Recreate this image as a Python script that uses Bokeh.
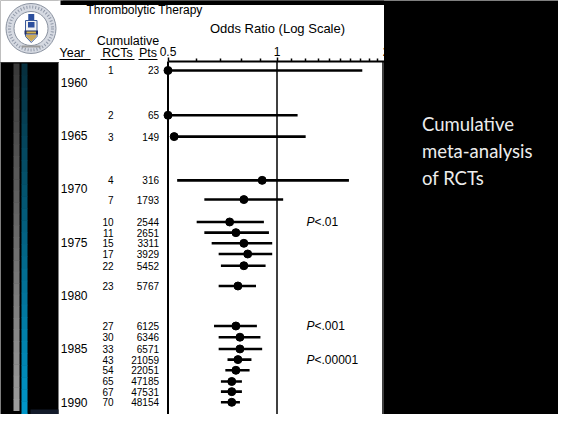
import numpy as np
from bokeh.plotting import figure
from bokeh.models import Range1d, FixedTicker, NumeralTickFormatter
from bokeh.core.properties import value
from bokeh.embed import file_html
from bokeh.resources import INLINE

# ---------------- data ----------------
years = [1960, 1965, 1970, 1975, 1980, 1985, 1990]
year_pos = [1958.9, 1963.1, 1965.1, 1969.2, 1971.0, 1973.1, 1974.1, 1975.1, 1976.1,
            1977.2, 1979.1, 1982.85, 1983.9, 1985.0, 1986.0, 1987.0, 1988.05, 1989.0, 1990.0]
cum_rcts = [1, 2, 3, 4, 7, 10, 11, 15, 17, 22, 23, 27, 30, 33, 43, 54, 65, 67, 70]
cum_pts = [23, 65, 149, 316, 1793, 2544, 2651, 3311, 3929, 5452, 5767, 6125, 6346,
           6571, 21059, 22051, 47185, 47531, 48154]
odds_ratio = [0.50, 0.50, 0.52, 0.91, 0.81, 0.74, 0.77, 0.81, 0.83, 0.81, 0.78, 0.77,
              0.79, 0.79, 0.78, 0.77, 0.75, 0.75, 0.75]
ci_low = [0.50, 0.50, 0.52, 0.53, 0.63, 0.60, 0.63, 0.66, 0.69, 0.70, 0.69, 0.67,
          0.69, 0.69, 0.73, 0.72, 0.70, 0.70, 0.70]
ci_high = [1.72, 1.14, 1.20, 1.58, 1.04, 0.92, 0.95, 0.97, 0.97, 0.93, 0.875, 0.88,
           0.90, 0.91, 0.85, 0.84, 0.80, 0.80, 0.79]
p_labels = ["<.01", "<.001", "<.00001"]
p_at_rcts = [10, 27, 43]
x_major = [0.5, 1, 2]
x_minor = [0.6, 0.7, 0.8, 0.9, 1.1, 1.2, 1.3, 1.4, 1.5, 1.6, 1.7, 1.8, 1.9]
title_text = "Thrombolytic Therapy"
axis_title = "Odds Ratio (Log Scale)"
side_text = ["Cumulative", "meta-analysis", "of RCTs"]

# ---------------- layout helpers (pixel -> data) ----------------
W, H = 558, 414
X0, PPD = 167.5, 109.0      # px of OR=0.5, px per doubling
Y0, PPY = 81.7, 10.67       # px of 1960, px per year


def xd(px):
    return 0.5 * 2 ** ((px - X0) / PPD)


def yd(py):
    return 1960 + (py - Y0) / PPY


p = figure(width=W, height=H, x_axis_type="log", x_axis_location="above",
           y_axis_location="left",
           x_range=Range1d(xd(0), xd(W)), y_range=Range1d(yd(H), yd(0)),
           output_backend="svg", toolbar_location=None, min_border=0,
           background_fill_color="black", border_fill_color="black",
           outline_line_color=None)
p.grid.visible = False

FONT = "Liberation Sans"


def txt(px, py, s, size, align="left", baseline="middle", color="black",
        font=FONT, style="normal"):
    p.text(x=[xd(px)], y=[yd(py)], text=[s], text_font=value(font),
           text_font_size=value(f"{size}px"), text_align=align,
           text_baseline=baseline, text_color=color, text_font_style=style)


def rect(l, r, t, b, fill, line=None, lw=1):
    p.quad(left=[xd(l)], right=[xd(r)], top=[yd(t)], bottom=[yd(b)],
           fill_color=fill, line_color=line, line_width=lw)


# white slide panel
rect(58, 383.5, 0, H, "white")


# left decorative gradient strips
def gradient(l, r, t, b, c0, c1, n=30):
    c0 = np.array([int(c0[i:i + 2], 16) for i in (1, 3, 5)])
    c1 = np.array([int(c1[i:i + 2], 16) for i in (1, 3, 5)])
    edges = np.linspace(t, b, n + 1)
    for i in range(n):
        f = i / (n - 1)
        c = (c0 + (c1 - c0) * f).astype(int)
        rect(l, r, edges[i], edges[i + 1] + 0.5, "#%02x%02x%02x" % tuple(c))


gradient(13, 19, 63, 410, "#3a3a3a", "#9c9c9c")
gradient(21, 27, 63, 425, "#06303f", "#0099cc")
rect(30, 58, 409, 415, "#121a2a")

# logo
rect(-2, 62.5, -2, 61.5, "white")
p.segment(x0=[xd(0)], y0=[yd(62)], x1=[xd(58)], y1=[yd(62)],
          line_color="#333333", line_width=1)
p.scatter(x=[xd(30.5)], y=[yd(28)], size=50, marker="circle",
          fill_color="#d6dae2", line_color="#8a92a0", line_width=1)
p.scatter(x=[xd(30.5)], y=[yd(28)], size=43, marker="circle",
          fill_color=None, line_color="#9098a8", line_width=3, line_dash="1 2")
p.scatter(x=[xd(30.5)], y=[yd(28)], size=34, marker="circle",
          fill_color="white", line_color="#8a92a0", line_width=1)
p.patch(x=[xd(v) for v in (25, 36.5, 36.5, 30.75, 25)],
        y=[yd(v) for v in (20, 20, 36, 42, 36)],
        fill_color="#f2f2f2", line_color="#3b5a9a", line_width=1)
rect(27.5, 34, 21.5, 27, "#2c4f9e")
rect(24, 37.5, 30, 34, "#1f2f6b")
rect(26, 35.5, 31, 33, "#d4b24a")
p.patch(x=[xd(v) for v in (25.5, 36, 36, 30.75, 25.5)],
        y=[yd(v) for v in (34.5, 34.5, 36, 41, 36)],
        fill_color="#c9a85a", line_color=None)
p.scatter(x=[xd(30.75)], y=[yd(16.5)], size=6, marker="square",
          fill_color="#2c4f9e", line_color=None)
p.segment(x0=[xd(21)], y0=[yd(46)], x1=[xd(40)], y1=[yd(46)],
          line_color="#9a9a9a", line_width=2)

# titles and headers
txt(144, 9, title_text, 12, align="center")
rect(60, 383.5, -2, 4.5, "black")
txt(127.5, 40, "Cumulative", 12.5, align="center")
txt(59, 52.5, "Year", 12.5)
txt(117, 52.5, "RCTs", 12.5, align="center")
txt(147.5, 52.5, "Pts", 12.5, align="center")
p.segment(x0=[xd(v) for v in (59, 100, 138)], y0=[yd(59)] * 3,
          x1=[xd(v) for v in (90, 134, 157)], y1=[yd(59)] * 3,
          line_color="black", line_width=1)

# table columns
n = len(cum_rcts)
p.text(x=[xd(113)] * n, y=year_pos, text=[str(v) for v in cum_rcts],
       text_font=value(FONT), text_font_size=value("10px"), text_align="right",
       text_baseline="middle", text_color="black")
p.text(x=[xd(158.5)] * n, y=year_pos, text=[str(v) for v in cum_pts],
       text_font=value(FONT), text_font_size=value("10px"), text_align="right",
       text_baseline="middle", text_color="black")

# plot box
x_right = xd(382.5)
p.segment(x0=[0.5, 1, x_right, 0.5], y0=[yd(61), yd(61), yd(61), yd(416)],
          x1=[0.5, 1, x_right, x_right], y1=[yd(416), yd(416), yd(416), yd(416)],
          line_color="black", line_width=[2, 1.5, 1.5, 2])

# forest plot
p.segment(x0=ci_low, y0=year_pos, x1=ci_high, y1=year_pos,
          line_color="black", line_width=2.6)
p.scatter(x=odds_ratio, y=year_pos, size=8, marker="circle",
          fill_color="black", line_color="black")

# p-values
for lab, r in zip(p_labels, p_at_rcts):
    yv = year_pos[cum_rcts.index(r)]
    p.text(x=[xd(306)], y=[yv], text=["P"], text_font=value(FONT),
           text_font_size=value("12px"), text_font_style="italic",
           text_baseline="middle", text_color="black")
    p.text(x=[xd(314)], y=[yv], text=[lab], text_font=value(FONT),
           text_font_size=value("12px"), text_baseline="middle",
           text_color="black")

# side text
for i, s in enumerate(side_text):
    txt(421.5, 123 + 27 * i, s, 18.5, color="#ececec", font="Lato")

# axes
ax = p.xaxis[0]
ax.fixed_location = yd(61)
ax.bounds = (0.5, 2)
ax.ticker = FixedTicker(ticks=x_major, minor_ticks=x_minor)
ax.formatter = NumeralTickFormatter(format="0.[0]")
ax.axis_line_color = "black"
ax.axis_line_width = 2
ax.major_tick_line_color = "black"
ax.minor_tick_line_color = "black"
ax.major_tick_line_width = 1.5
ax.minor_tick_line_width = 1.5
ax.major_tick_out = 4
ax.major_tick_in = 0
ax.minor_tick_out = 3
ax.minor_tick_in = 0
ax.major_label_standoff = 2
ax.major_label_text_font = FONT
ax.major_label_text_font_size = "12px"
ax.major_label_text_color = "black"
ax.axis_label = axis_title
ax.axis_label_text_font = FONT
ax.axis_label_text_font_size = "13px"
ax.axis_label_text_font_style = "normal"
ax.axis_label_text_color = "black"
ax.axis_label_standoff = 8

ya = p.yaxis[0]
ya.fixed_location = xd(87)
ya.ticker = FixedTicker(ticks=years)
ya.formatter = NumeralTickFormatter(format="0")
ya.axis_line_color = None
ya.major_tick_line_color = None
ya.minor_tick_line_color = None
ya.major_tick_out = 0
ya.major_tick_in = 0
ya.major_label_standoff = 0
ya.major_label_text_font = FONT
ya.major_label_text_font_size = "12px"
ya.major_label_text_color = "black"

open("out.html", "w").write(file_html(p, INLINE))
